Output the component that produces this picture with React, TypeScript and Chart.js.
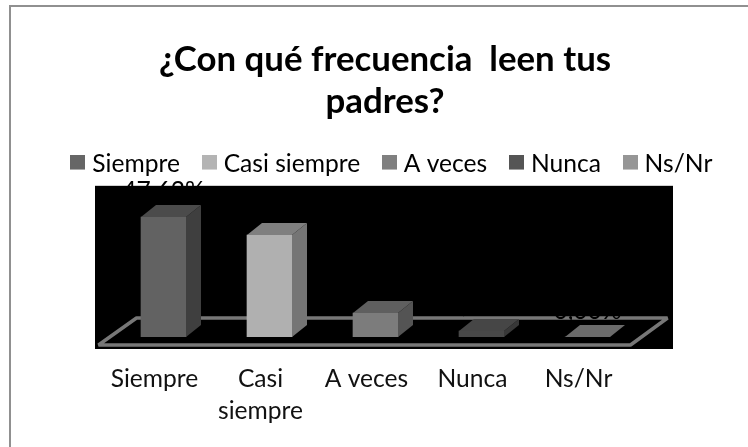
import React, { useEffect, useRef } from "react";
import { Chart, registerables } from "chart.js";

Chart.register(...registerables);

const categories = ["Siempre", "Casi siempre", "A veces", "Nunca", "Ns/Nr"];
const tickLabels: (string | string[])[] = ["Siempre", ["Casi", "siempre"], "A veces", "Nunca", "Ns/Nr"];
const values = [47.62, 40.48, 9.52, 2.38, 0];
const valueLabels = ["47,62%", "40,48%", "9,52%", "2,38%", "0,00%"];
const titleLines = ["¿Con qué frecuencia  leen tus", "padres?"];
const frontColors = ["#626262", "#b0b0b0", "#7c7c7c", "#484848", "#6e6e6e"];
const legendColors = ["#666666", "#b4b4b4", "#808080", "#555555", "#969696"];
const topColors = ["#4b4b4b", "#7f7f7f", "#5f5f5f", "#464646", "#6b6b6b"];
const sideColors = ["#3f3f3f", "#757575", "#545454", "#383838", "#5c5c5c"];

const FONT = "Lato";
const DEPTH_X = 15;
const DEPTH_Y = 12;

function legendSwatch(color: string) {
  const c = document.createElement("canvas");
  c.width = 15;
  c.height = 20;
  const g = c.getContext("2d") as CanvasRenderingContext2D;
  g.fillStyle = color;
  g.fillRect(0, 0, 15, 15);
  return c;
}

const scenePlugin = {
  id: "scene",
  afterLayout(chart: any) {
    chart.legend.left += 9;
    chart.legend.right += 9;
    chart.legend.top += 2;
    chart.legend.bottom += 2;
  },
  beforeDraw(chart: any) {
    const { ctx } = chart;
    ctx.save();
    ctx.fillStyle = "#ffffff";
    ctx.fillRect(0, 0, chart.width, chart.height);
    ctx.fillStyle = "#909090";
    ctx.fillRect(9, 5, chart.width - 9, 2);
    ctx.fillRect(9, 5, 2, chart.height - 5);
    ctx.restore();
  },
  beforeDatasetsDraw(chart: any) {
    const { ctx, chartArea: a } = chart;
    ctx.save();
    ctx.fillStyle = "#000000";
    ctx.fillRect(a.left - 15.5, a.top, a.width + 48, a.height + 12);
    ctx.strokeStyle = "#777777";
    ctx.lineWidth = 3.5;
    ctx.lineJoin = "bevel";
    ctx.beginPath();
    ctx.moveTo(a.left - 12, a.bottom + 8);
    ctx.lineTo(a.left + 26, a.bottom - 19);
    ctx.lineTo(a.right + 27, a.bottom - 19);
    ctx.lineTo(a.right - 10, a.bottom + 8);
    ctx.closePath();
    ctx.stroke();
    ctx.restore();
  },
  afterDatasetsDraw(chart: any) {
    const { ctx } = chart;
    const meta = chart.getDatasetMeta(0);
    ctx.save();
    meta.data.forEach((bar: any, i: number) => {
      const half = bar.width / 2;
      const l = bar.x - half;
      const r = bar.x + half;
      const t = bar.y;
      const b = bar.base;
      ctx.fillStyle = sideColors[i];
      ctx.beginPath();
      ctx.moveTo(r, t);
      ctx.lineTo(r + DEPTH_X, t - DEPTH_Y);
      ctx.lineTo(r + DEPTH_X, b - DEPTH_Y);
      ctx.lineTo(r, b);
      ctx.closePath();
      ctx.fill();
      ctx.fillStyle = topColors[i];
      ctx.beginPath();
      ctx.moveTo(l, t);
      ctx.lineTo(l + DEPTH_X, t - DEPTH_Y);
      ctx.lineTo(r + DEPTH_X, t - DEPTH_Y);
      ctx.lineTo(r, t);
      ctx.closePath();
      ctx.fill();
    });
    ctx.fillStyle = "#000000";
    ctx.font = `24.6px ${FONT}`;
    ctx.textAlign = "center";
    ctx.textBaseline = "alphabetic";
    meta.data.forEach((bar: any, i: number) => {
      ctx.fillText(valueLabels[i], bar.x, bar.y - 18);
    });
    ctx.restore();
  },
};

export default function App() {
  const ref = useRef<HTMLCanvasElement>(null);
  useEffect(() => {
    const chart = new Chart(ref.current as HTMLCanvasElement, {
      type: "bar",
      data: {
        labels: tickLabels as any,
        datasets: [
          {
            data: values,
            backgroundColor: frontColors,
            barThickness: 45,
            minBarLength: 0,
          },
        ],
      },
      options: {
        animation: false,
        responsive: false,
        devicePixelRatio: 1,
        layout: { padding: { left: 22, right: 0, top: 0, bottom: 0 } },
        plugins: {
          title: {
            display: true,
            text: titleLines,
            color: "#000000",
            font: { family: FONT, size: 34.8, weight: "bold", lineHeight: 1.21 },
            padding: { top: 39, bottom: 0 },
          },
          legend: {
            display: true,
            position: "top",
            labels: {
              color: "#111111",
              font: { family: FONT, size: 24.6 },
              usePointStyle: true,
              pointStyleWidth: 4.4,
              boxHeight: 14,
              padding: 27,
              generateLabels: () =>
                categories.map((c, i) => ({
                  text: c,
                  fillStyle: legendColors[i],
                  strokeStyle: legendColors[i],
                  lineWidth: 0,
                  hidden: false,
                  index: i,
                  pointStyle: legendSwatch(legendColors[i]),
                })),
            },
          },
          tooltip: { enabled: false },
        },
        scales: {
          x: {
            grid: { display: false },
            border: { display: false },
            ticks: {
              color: "#111111",
              font: { family: FONT, size: 24.6, lineHeight: 1.3 },
              labelOffset: -9,
              maxRotation: 0,
              autoSkip: false,
              padding: 18,
            },
            afterFit: (s: any) => {
              s.height = 110;
            },
          },
          xt: {
            type: "linear",
            position: "top",
            display: true,
            grid: { display: false },
            border: { display: false },
            ticks: { display: false },
            afterFit: (s: any) => {
              s.height = 1;
            },
          },
          y: {
            min: 0,
            max: 60,
            grid: { display: false },
            border: { display: false },
            ticks: { display: false },
            afterFit: (s: any) => {
              s.width = 88.5;
            },
          },
          yr: {
            position: "right",
            display: true,
            grid: { display: false },
            border: { display: false },
            ticks: { display: false },
            afterFit: (s: any) => {
              s.width = 107.5;
            },
          },
        },
      },
      plugins: [scenePlugin],
    } as any);
    return () => chart.destroy();
  }, []);
  return (
    <canvas
      ref={ref}
      width={748}
      height={447}
      style={{ position: "absolute", left: 0, top: 0, display: "block" }}
    />
  );
}
